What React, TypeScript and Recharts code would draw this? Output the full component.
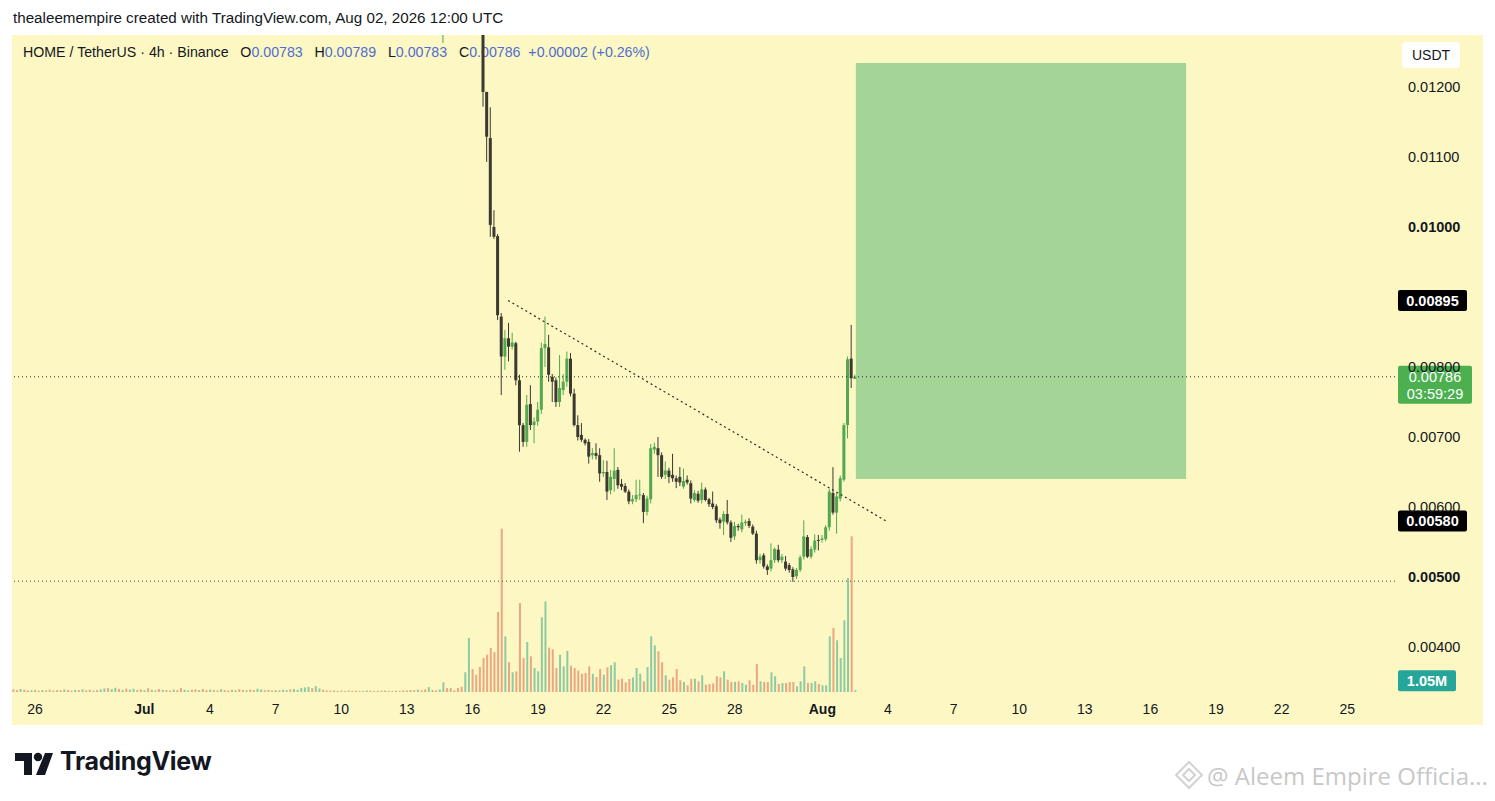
import React from 'react';
import { ComposedChart, Bar, XAxis, YAxis, ReferenceLine, ReferenceArea } from 'recharts';

// ---- data (4h candles, index 0 = Jun 25 00:00 UTC) ----
const volumes: number[] = [
  1.6, 1.2, 1.8, 1.4, 0.9, 1.1, 1.3, 0.8, 1.2, 1.0,
  1.4, 0.9, 1.1, 1.0, 1.5, 1.2, 0.8, 1.3, 1.1, 1.7,
  1.0, 1.4, 0.9, 1.2, 1.6, 2.2, 2.4, 1.8, 2.6, 1.9,
  1.3, 2.1, 1.5, 2.0, 1.2, 1.6, 1.1, 2.3, 1.4, 1.0,
  1.8, 1.3, 1.2, 0.9, 1.5, 1.1, 2.4, 1.4, 1.0, 1.3,
  1.6, 1.2, 1.9, 1.1, 1.5, 1.3, 1.0, 1.8, 1.2, 0.9,
  1.4, 1.1, 1.7, 1.3, 1.0, 1.5, 1.2, 2.0, 1.6, 1.1,
  1.3, 0.9, 1.2, 1.0, 1.4, 1.1, 1.6, 1.9, 1.3, 2.5,
  2.8, 3.1, 2.4, 3.6, 2.2, 1.4, 1.0, 0.8, 0.9, 0.7,
  0.8, 0.6, 0.9, 0.7, 0.8, 0.6, 0.7, 0.9, 0.8, 0.6,
  0.7, 0.8, 0.9, 0.7, 0.6, 0.8, 0.7, 1.0, 0.9, 1.2,
  1.1, 1.4, 1.0, 1.6, 3.0, 1.2, 0.9, 1.5,
  5.9, 2.4, 2.4, 1.0, 2.4, 3.2, 12.0, 32.9, 14.0, 10.5, 15.2,
  20.7, 22.7, 26.8, 24.2, 48.7, 99.4, 33.9, 18.1, 12.0, 12.6,
  54.2, 20.7, 30.4, 21.7, 14.6, 12.6, 45.5, 55.2, 27.0, 26.0,
  14.6, 22.7, 15.6, 25.0, 16.0, 14.6, 13.0, 11.1, 11.6, 15.6,
  11.1, 9.1, 14.0, 10.5, 15.0, 16.3, 18.1, 7.5, 8.1, 5.9,
  7.9, 8.9, 14.6, 11.1, 6.5, 15.2, 33.9, 28.4, 24.8, 18.1,
  10.2, 7.5, 8.9, 14.0, 7.1, 6.1, 4.1, 7.9, 8.1, 6.5,
  10.2, 4.4, 4.9, 5.3, 9.6, 8.9, 12.6, 7.5, 6.1, 6.1,
  6.5, 5.5, 4.4, 7.1, 4.4, 17.0, 6.5, 6.1, 6.1, 12.0,
  9.6, 4.9, 5.5, 5.5, 6.1, 6.1, 3.5, 6.5, 15.6, 5.5,
  5.5, 6.5, 4.9, 4.1, 4.1, 33.9, 39.0, 31.5, 20.7, 43.7,
  69.4, 94.8, 1.05,
];

// direction of the bars whose candles sit above the visible price range (u = up, d = down)
const hiddenDirs =
  'ddudduddud' + 'dudduddudu' + 'dduduuduud' + 'uduuddudud' + 'duddudduud' + 'dudduddudd' +
  'duddudduud' + 'dduduuduuu' + 'uuduuddddd' + 'dddddddudd' + 'dddddudddd' + 'dudduddu' +
  'uddddduuddd';

const CANDLE_START = 118;
// [open, high, low, close]
const candles: ([number, number, number, number] | null)[] = [
  [0.0131, 0.0134, 0.01263, 0.0133],
  null, null, null, null, null, null, null, null, null, null,
  [0.0129, 0.013, 0.01172, 0.01193],
  [0.01193, 0.01193, 0.01093, 0.01129],
  [0.01127, 0.01171, 0.00986, 0.01003],
  [0.01, 0.01024, 0.00983, 0.00986],
  [0.00987, 0.0099, 0.00867, 0.00874],
  [0.00872, 0.00877, 0.0076, 0.00815],
  [0.00815, 0.00853, 0.00796, 0.00841],
  [0.00841, 0.00863, 0.00808, 0.00829],
  [0.00829, 0.00849, 0.00825, 0.00835],
  [0.00834, 0.00836, 0.00774, 0.00781],
  [0.00781, 0.00789, 0.00679, 0.00717],
  [0.00717, 0.0072, 0.00686, 0.00693],
  [0.00693, 0.0076, 0.00686, 0.00746],
  [0.00747, 0.00774, 0.0071, 0.00717],
  [0.00717, 0.00728, 0.00691, 0.00722],
  [0.00722, 0.0075, 0.00716, 0.00739],
  [0.00739, 0.00835, 0.00733, 0.00827],
  [0.00827, 0.00872, 0.008, 0.00833],
  [0.00828, 0.00846, 0.00779, 0.00789],
  [0.00786, 0.0079, 0.0075, 0.00779],
  [0.00781, 0.00785, 0.00743, 0.0075],
  [0.0075, 0.00817, 0.00743, 0.0077],
  [0.00767, 0.0079, 0.0076, 0.00779],
  [0.00779, 0.00822, 0.00772, 0.00812],
  [0.00812, 0.0082, 0.00758, 0.00762],
  [0.00762, 0.00769, 0.00715, 0.00717],
  [0.00717, 0.00731, 0.00695, 0.007],
  [0.00703, 0.0072, 0.00693, 0.00696],
  [0.00696, 0.00698, 0.00688, 0.00691],
  [0.00693, 0.00697, 0.00662, 0.00672],
  [0.00674, 0.00684, 0.00668, 0.00677],
  [0.00677, 0.00691, 0.00668, 0.00673],
  [0.00674, 0.00684, 0.00636, 0.00648],
  [0.00648, 0.00667, 0.00643, 0.0065],
  [0.0065, 0.00666, 0.0061, 0.00622],
  [0.00624, 0.00653, 0.00618, 0.00643],
  [0.0064, 0.00684, 0.00622, 0.00652],
  [0.00653, 0.00657, 0.00626, 0.00631],
  [0.00633, 0.0064, 0.00624, 0.00629],
  [0.0063, 0.00634, 0.0062, 0.00622],
  [0.00622, 0.00625, 0.00604, 0.00608],
  [0.00608, 0.00617, 0.00604, 0.00611],
  [0.00611, 0.00639, 0.00607, 0.00617],
  [0.00617, 0.00639, 0.0061, 0.00618],
  [0.00617, 0.0062, 0.00577, 0.00593],
  [0.00593, 0.00616, 0.00588, 0.00612],
  [0.00611, 0.0069, 0.00605, 0.00684],
  [0.00682, 0.00692, 0.00676, 0.00686],
  [0.00684, 0.007, 0.00643, 0.00674],
  [0.00674, 0.00678, 0.0064, 0.00643],
  [0.00646, 0.00665, 0.0064, 0.00652],
  [0.00652, 0.00656, 0.00634, 0.00643],
  [0.00646, 0.00676, 0.00636, 0.00641],
  [0.00641, 0.00645, 0.00627, 0.00636],
  [0.00643, 0.00657, 0.0063, 0.00635],
  [0.00629, 0.00655, 0.00626, 0.00637],
  [0.00639, 0.00645, 0.00632, 0.00635],
  [0.00634, 0.00638, 0.00605, 0.00612],
  [0.0061, 0.00624, 0.00607, 0.0062],
  [0.00619, 0.00623, 0.00606, 0.00609],
  [0.0061, 0.00635, 0.00605, 0.00625],
  [0.00625, 0.00628, 0.00608, 0.0061],
  [0.00611, 0.00613, 0.006, 0.00604],
  [0.00605, 0.00622, 0.00597, 0.006],
  [0.00601, 0.00604, 0.00577, 0.00581],
  [0.00582, 0.00585, 0.00569, 0.00577],
  [0.00579, 0.00594, 0.0056, 0.0059],
  [0.0059, 0.0061, 0.00575, 0.00578],
  [0.00578, 0.00581, 0.0055, 0.00556],
  [0.00558, 0.00579, 0.00553, 0.00573],
  [0.00573, 0.00576, 0.00566, 0.00571],
  [0.00568, 0.00589, 0.00564, 0.00578],
  [0.00577, 0.00582, 0.00573, 0.00579],
  [0.0058, 0.00584, 0.0057, 0.00573],
  [0.00572, 0.00575, 0.0056, 0.00562],
  [0.00562, 0.00566, 0.00519, 0.00524],
  [0.00524, 0.00533, 0.00519, 0.00529],
  [0.00531, 0.00534, 0.00512, 0.00515],
  [0.00515, 0.00518, 0.00503, 0.0051],
  [0.00512, 0.00548, 0.00508, 0.00524],
  [0.00524, 0.00542, 0.0052, 0.0054],
  [0.00539, 0.00546, 0.00521, 0.00524],
  [0.00524, 0.00533, 0.0052, 0.00529],
  [0.00522, 0.0053, 0.00509, 0.00512],
  [0.00517, 0.0052, 0.00506, 0.0051],
  [0.00511, 0.00514, 0.00493, 0.005],
  [0.00501, 0.00513, 0.00497, 0.0051],
  [0.0051, 0.00531, 0.00507, 0.00528],
  [0.00529, 0.00581, 0.00525, 0.00558],
  [0.00557, 0.0056, 0.00527, 0.00529],
  [0.00529, 0.00544, 0.00526, 0.0054],
  [0.00539, 0.00561, 0.00535, 0.00552],
  [0.00553, 0.0056, 0.00538, 0.00552],
  [0.00553, 0.0056, 0.00549, 0.00555],
  [0.00554, 0.00574, 0.00551, 0.00571],
  [0.00571, 0.00626, 0.00566, 0.00622],
  [0.0062, 0.00657, 0.00589, 0.00592],
  [0.00592, 0.0062, 0.00562, 0.00615],
  [0.00612, 0.00645, 0.00608, 0.00641],
  [0.00639, 0.0072, 0.00636, 0.00717],
  [0.00717, 0.00815, 0.00698, 0.00811],
  [0.00812, 0.0086, 0.0077, 0.00784],
  [0.00783, 0.00789, 0.00783, 0.00786],
];

const xTickIdx = [6, 36, 54, 72, 90, 108, 126, 144, 162, 180, 198, 222, 240, 258, 276, 294, 312, 330, 348, 366];
const xTickLabels = ['26', 'Jul', '4', '7', '10', '13', '16', '19', '22', '25', '28', 'Aug', '4', '7', '10', '13', '16', '19', '22', '25'];
const priceTicks = [0.004, 0.005, 0.006, 0.007, 0.008, 0.01, 0.011, 0.012];
const boldPriceTicks = [0.005, 0.01];

const lastPrice = 0.00786;
const countdown = '03:59:29';
const lastVolume = 1.05;
const lowLine = 0.00494;
const trendStart = { x: 135.8, y: 0.00895 };
const trendEnd = { x: 239.5, y: 0.0058 };
const targetZone = { x1: 231.2, x2: 321.8, y1: 0.0064, y2: 0.012343 };

const xDomain: [number, number] = [-0.3, 379.1];
const priceDomain: [number, number] = [0.003357, 0.012743];
const volDomain: [number, number] = [0, 400];

// ---- styling / layout ----
const BULL = '#52a84e';
const BEAR = '#3b3a30';
const VOL_UP = '#8ecba2';
const VOL_DOWN = '#eaa782';
const BG = '#fdf7c4';
const FONT = "'Liberation Sans', Arial, sans-serif";
const CHART_W = 1471;
const CHART_H = 690;
const X_AXIS_H = 33;

const data = volumes.map((v, i) => {
  const cd = i >= CANDLE_START ? candles[i - CANDLE_START] : null;
  const up = cd ? cd[3] >= cd[0] : hiddenDirs[i] === 'u';
  return {
    i,
    v,
    up,
    o: cd ? cd[0] : null,
    h: cd ? cd[1] : null,
    l: cd ? cd[2] : null,
    c: cd ? cd[3] : null,
  };
});

const CandleShape = (props: any) => {
  const { x, y, width, height, payload } = props;
  if (!payload || payload.o == null || !isFinite(y) || !isFinite(height)) return <g />;
  const { o, h, l, c, up } = payload;
  const yTop = Math.min(y, y + height);
  const yBot = Math.max(y, y + height);
  const span = h - l;
  const py = (p: number) => (span > 0 ? yTop + ((h - p) / span) * (yBot - yTop) : yTop);
  const cx = x + width / 2;
  const color = up ? BULL : BEAR;
  const bt = py(Math.max(o, c));
  const bb = py(Math.min(o, c));
  return (
    <g>
      <line x1={cx} x2={cx} y1={yTop} y2={yBot} stroke={color} strokeWidth={1} />
      <rect x={x} y={bt} width={width} height={Math.max(1, bb - bt)} fill={color} />
    </g>
  );
};

const VolumeShape = (props: any) => {
  const { x, y, width, height, payload } = props;
  if (!isFinite(y) || !isFinite(height)) return <g />;
  return <rect x={x} y={Math.min(y, y + height)} width={width} height={Math.abs(height)} fill={payload.up ? VOL_UP : VOL_DOWN} />;
};

const XTick = (props: any) => {
  const { x, payload } = props;
  const idx = xTickIdx.indexOf(payload.value);
  const label = idx >= 0 ? xTickLabels[idx] : '';
  const bold = label === 'Jul' || label === 'Aug';
  // label row sits in the middle of the x-axis band
  const ty = CHART_H - X_AXIS_H + 22;
  return (
    <text x={x} y={ty} textAnchor="middle" fontSize={14} fontFamily={FONT} fill="#131722" fontWeight={bold ? 700 : 400}>
      {label}
    </text>
  );
};

const YTick = (props: any) => {
  const { x, y, payload } = props;
  const bold = boldPriceTicks.some((b) => Math.abs(b - payload.value) < 1e-9);
  return (
    <text x={x + 13} y={y + 5} textAnchor="start" fontSize={14.5} fontFamily={FONT} fill="#131722" fontWeight={bold ? 700 : 400}>
      {payload.value.toFixed(5)}
    </text>
  );
};

const Tag = (props: any) => {
  const { viewBox, text, sub, bg, w, above } = props;
  if (!viewBox) return null;
  const x0 = viewBox.x + viewBox.width + 3;
  const yc = viewBox.y;
  if (sub) {
    return (
      <g>
        <rect x={x0} y={yc - 11} width={w} height={38} rx={2} fill={bg} />
        <text x={x0 + w / 2} y={yc + 5} textAnchor="middle" fontSize={14.5} fontFamily={FONT} fill="#fff">{text}</text>
        <text x={x0 + w / 2} y={yc + 22} textAnchor="middle" fontSize={14.5} fontFamily={FONT} fill="#fff">{sub}</text>
      </g>
    );
  }
  const top = above ? yc - 20 : yc - 10.5;
  return (
    <g>
      <rect x={x0} y={top} width={w} height={21} rx={2} fill={bg} />
      <text x={x0 + w / 2} y={top + 15.5} textAnchor="middle" fontSize={14.5} fontFamily={FONT} fill="#fff" fontWeight={600}>{text}</text>
    </g>
  );
};

export default function App() {
  return (
    <div style={{ position: 'relative', width: 1495, height: 801, background: '#fff', overflow: 'hidden', fontFamily: FONT }}>
      <style>{'body{margin:0}'}</style>
      <div style={{ position: 'absolute', left: 13, top: 9, fontSize: 15.2, color: '#131722', whiteSpace: 'nowrap' }}>
        thealeemempire created with TradingView.com, Aug 02, 2026 12:00 UTC
      </div>
      <div style={{ position: 'absolute', left: 12, top: 35, width: CHART_W, height: CHART_H, background: BG }} />
      <div style={{ position: 'absolute', left: 23, top: 44, fontSize: 14.2, color: '#131722', whiteSpace: 'nowrap' }}>
        HOME / TetherUS · 4h · Binance&nbsp;&nbsp;
        O<span style={{ color: '#4e6fd0' }}>0.00783</span>&nbsp;&nbsp;
        H<span style={{ color: '#4e6fd0' }}>0.00789</span>&nbsp;&nbsp;
        L<span style={{ color: '#4e6fd0' }}>0.00783</span>&nbsp;&nbsp;
        C<span style={{ color: '#4e6fd0' }}>0.00786</span>&nbsp;&nbsp;
        <span style={{ color: '#4e6fd0' }}>+0.00002 (+0.26%)</span>
      </div>
      <div style={{ position: 'absolute', left: 1402, top: 42, width: 58, height: 26, background: '#fff', borderRadius: 4, fontSize: 14, color: '#131722', display: 'flex', alignItems: 'center', justifyContent: 'center' }}>
        USDT
      </div>
      <div style={{ position: 'absolute', left: 12, top: 35 }}>
        <ComposedChart width={CHART_W} height={CHART_H} data={data} margin={{ top: 0, right: 0, bottom: 0, left: 0 }}>
          <XAxis xAxisId="x" dataKey="i" type="number" domain={xDomain} allowDataOverflow ticks={xTickIdx} interval={0}
            axisLine={false} tickLine={false} tickSize={0} tickMargin={0} height={X_AXIS_H} tick={<XTick />} />
          <XAxis xAxisId="vx" dataKey="i" type="number" domain={xDomain} allowDataOverflow hide />
          <YAxis yAxisId="p" orientation="right" width={88} domain={priceDomain} allowDataOverflow ticks={priceTicks} interval={0}
            axisLine={false} tickLine={false} tickSize={0} tickMargin={0} tick={<YTick />} />
          <YAxis yAxisId="vol" domain={volDomain} allowDataOverflow hide />
          <ReferenceArea xAxisId="x" yAxisId="p" x1={targetZone.x1} x2={targetZone.x2} y1={targetZone.y1} y2={targetZone.y2}
            fill="#a4d596" fillOpacity={1} stroke="none" />
          <Bar xAxisId="vx" yAxisId="vol" dataKey="v" barSize={2} isAnimationActive={false} shape={<VolumeShape />} />
          <Bar xAxisId="x" yAxisId="p" dataKey={(d: any) => (d.o == null ? null : [d.l, d.h])} barSize={3}
            isAnimationActive={false} shape={<CandleShape />} />
          <ReferenceLine xAxisId="x" yAxisId="p" y={lowLine} stroke="#4a4a40" strokeDasharray="1 3" strokeWidth={1} />
          <ReferenceLine xAxisId="x" yAxisId="p" segment={[trendStart, trendEnd]} stroke="#2a2a22" strokeDasharray="2 3" strokeWidth={1.2} />
          <ReferenceLine xAxisId="x" yAxisId="p" y={lastPrice} stroke="#2a2a22" strokeDasharray="1 3" strokeWidth={1}
            label={<Tag text={lastPrice.toFixed(5)} sub={countdown} bg="#4caf50" w={74} />} />
          <ReferenceLine xAxisId="x" yAxisId="p" y={trendStart.y} stroke="none"
            label={<Tag text={trendStart.y.toFixed(5)} bg="#000" w={69} />} />
          <ReferenceLine xAxisId="x" yAxisId="p" y={trendEnd.y} stroke="none"
            label={<Tag text={trendEnd.y.toFixed(5)} bg="#000" w={69} />} />
          <ReferenceLine xAxisId="vx" yAxisId="vol" y={lastVolume} stroke="none"
            label={<Tag text={lastVolume.toFixed(2) + 'M'} bg="#26a69a" w={58} above />} />
        </ComposedChart>
      </div>
      <svg style={{ position: 'absolute', left: 14, top: 751 }} width={40} height={26}>
        <path d="M1 2 H18 V24 H10 V10 H1 Z" fill="#131722" />
        <circle cx={24} cy={6} r={4.2} fill="#131722" />
        <path d="M31 2 H39 L31 24 H22 Z" fill="#131722" />
      </svg>
      <div style={{ position: 'absolute', left: 60, top: 746, fontSize: 25, fontWeight: 700, color: '#131722', fontFamily: "Inter, 'Noto Sans', sans-serif", letterSpacing: -0.3 }}>
        TradingView
      </div>
      <svg style={{ position: 'absolute', left: 1174, top: 760 }} width={30} height={30}>
        <path d="M15 2 L28 15 L15 28 L2 15 Z" fill="none" stroke="#d2d2d2" strokeWidth={2} />
        <path d="M15 9 L21 15 L15 21 L9 15 Z" fill="none" stroke="#d2d2d2" strokeWidth={2} />
      </svg>
      <div style={{ position: 'absolute', left: 1207, top: 759, fontSize: 24, color: '#c8c8c8', fontFamily: "'Open Sans', sans-serif", whiteSpace: 'nowrap' }}>
        @ Aleem Empire Officia...
      </div>
    </div>
  );
}
